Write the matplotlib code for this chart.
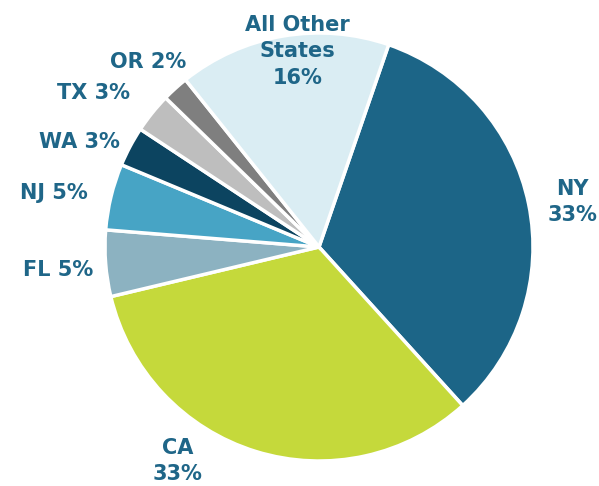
import matplotlib.pyplot as plt

# Share of total by state (clockwise from the top)
states = ["NY", "CA", "FL", "NJ", "WA", "TX", "OR", "All Other\nStates"]
shares = [33, 33, 5, 5, 3, 3, 2, 16]
colors = ["#1c6587", "#c5d93b", "#8cb2c1", "#47a4c5",
          "#0c4460", "#bebebe", "#7f7f7f", "#daedf3"]

# label layout: (x, y, ha, two-line?)
label_pos = {
    "NY": (1.185, 0.21, "center", True),
    "CA": (-0.66, -1.00, "center", True),
    "FL": (-1.056, -0.107, "right", False),
    "NJ": (-1.08, 0.252, "right", False),
    "WA": (-0.93, 0.49, "right", False),
    "TX": (-0.883, 0.72, "right", False),
    "OR": (-0.62, 0.864, "right", False),
    "All Other\nStates": (-0.10, 0.915, "center", True),
}

text_color = "#1f6688"


def main():
    fig = plt.figure(figsize=(5.99, 4.86), dpi=100)
    ax = fig.add_axes([0, 0, 1, 1])
    ax.pie(shares, colors=colors, startangle=71, counterclock=False,
           wedgeprops=dict(edgecolor="white", linewidth=2.5))

    for name, val in zip(states, shares):
        x, y, ha, two = label_pos[name]
        sep = "\n" if two else " "
        ax.text(x, y, f"{name}{sep}{val}%", ha=ha, va="center",
                fontsize=15, fontweight="bold", color=text_color,
                linespacing=1.4, family="DejaVu Sans")

    ax.set_xlim(-319 / 214, (599 - 319) / 214)
    ax.set_ylim(-(486 - 247) / 214, 247 / 214)
    ax.set_aspect("auto")
    ax.axis("off")
    fig.savefig("out.png", dpi=100)


if __name__ == "__main__":
    main()
